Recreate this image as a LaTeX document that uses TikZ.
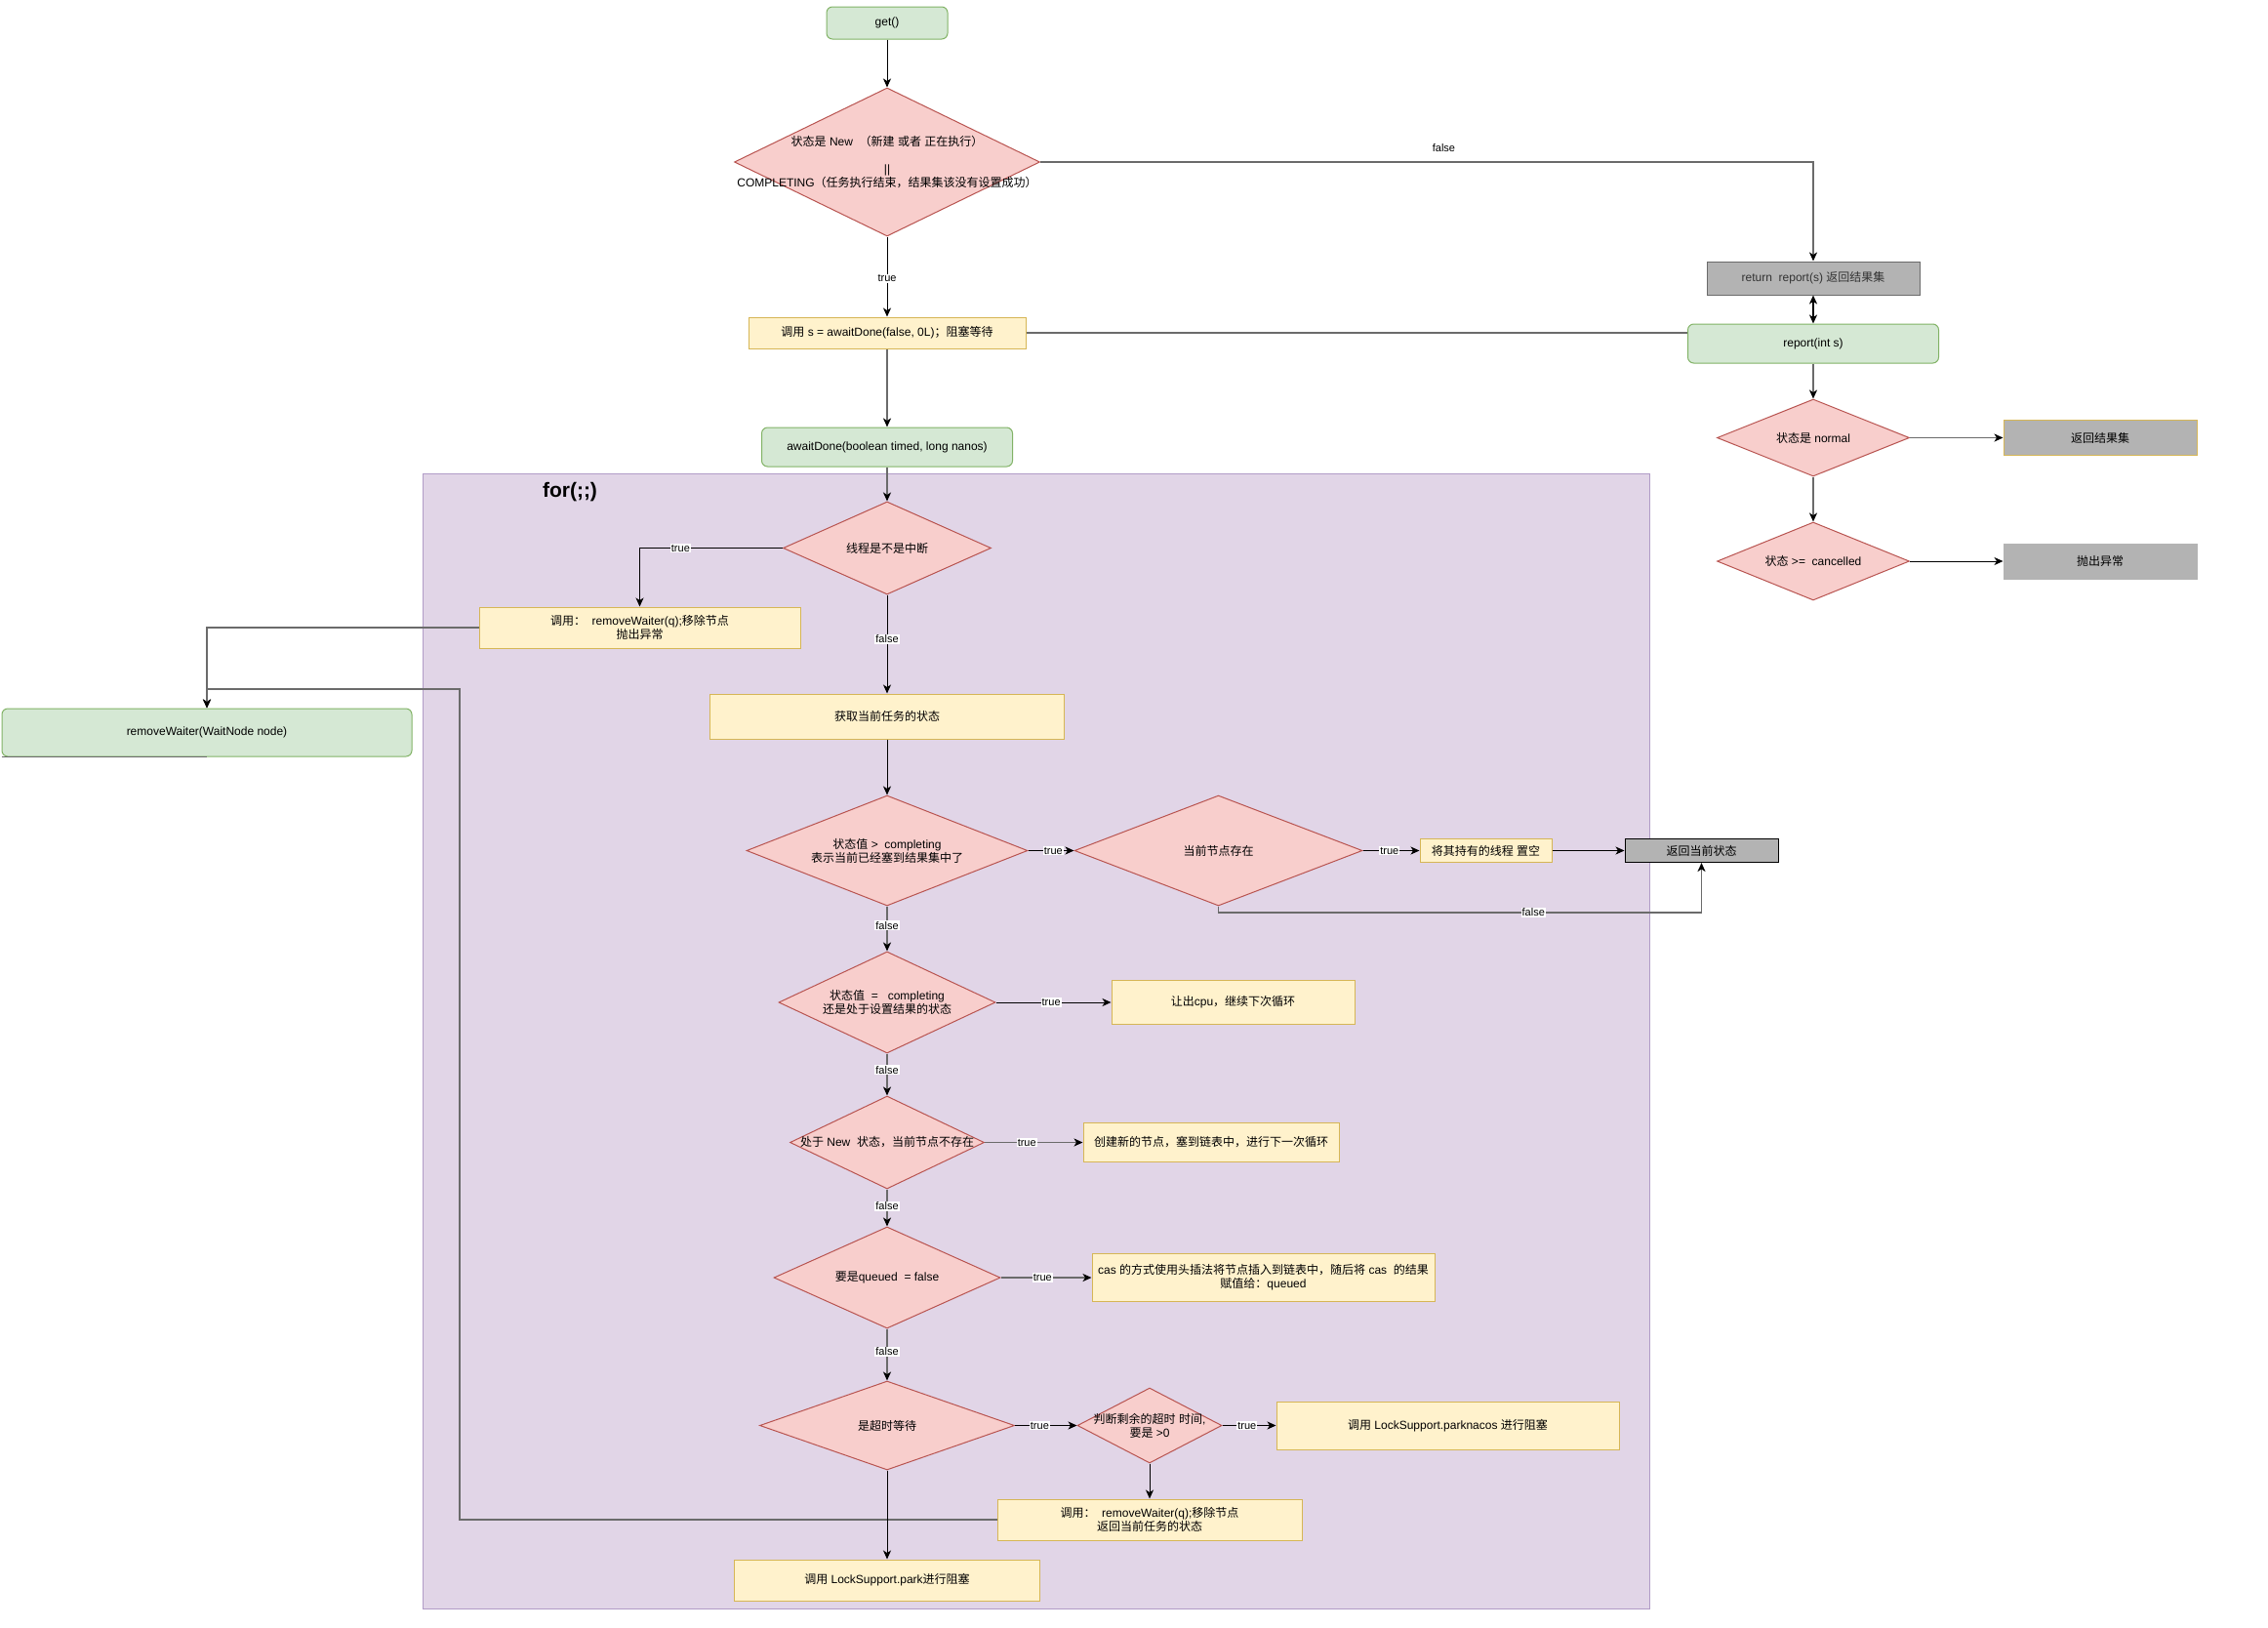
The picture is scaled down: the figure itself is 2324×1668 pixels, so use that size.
\documentclass[tikz,border=0pt]{standalone}
\usepackage{fontspec}
\setmainfont{Liberation Sans}
\newfontfamily\latinfont{Liberation Sans}
\newfontfamily\cjkfont{Noto Sans CJK SC}
\usetikzlibrary{arrows.meta, shapes.geometric, positioning}

% 中文字符自动切换到 CJK 字体
\XeTeXinterchartokenstate=1
\newXeTeXintercharclass\cjkclass
\newcount\cjkcode
\def\setcjkrange#1#2{\cjkcode=#1
  \loop\XeTeXcharclass\cjkcode=\cjkclass
    \advance\cjkcode by 1
  \ifnum\cjkcode<#2\repeat}
\setcjkrange{"3000}{"3040}
\setcjkrange{"4E00}{"A000}
\setcjkrange{"FF00}{"FFF0}
\XeTeXinterchartoks 0 \cjkclass = {\cjkfont}
\XeTeXinterchartoks 4095 \cjkclass = {\cjkfont}
\XeTeXinterchartoks \cjkclass 0 = {\latinfont}
\XeTeXinterchartoks \cjkclass 4095 = {\latinfont}

\definecolor{startfill}{HTML}{D5E8D4}
\definecolor{startline}{HTML}{82B366}
\definecolor{procfill}{HTML}{FFF2CC}
\definecolor{procline}{HTML}{D6B656}
\definecolor{decfill}{HTML}{F8CECC}
\definecolor{decline}{HTML}{B85450}
\definecolor{loopfill}{HTML}{E1D5E7}
\definecolor{loopline}{HTML}{B19CC7}
\definecolor{greyfill}{HTML}{B3B3B3}
\definecolor{edgegrey}{HTML}{6B6B6B}

\tikzset{
  startbox/.style={draw=startline, fill=startfill, rounded corners=6pt, line width=1pt, inner sep=0pt},
  procbox/.style={draw=procline, fill=procfill, line width=1pt, inner sep=0pt, align=center},
  greybox/.style={draw=greyfill, fill=greyfill, line width=1pt, inner sep=0pt},
  decision/.style={diamond, draw=decline, fill=decfill, line width=1pt, inner sep=0pt},
  dtext/.style={align=center, inner sep=0pt},
  flow/.style={draw=black, line width=1pt, -{Stealth[length=9pt, width=8pt, inset=2.5pt, black]}},
  flowg/.style={flow, draw=edgegrey, line width=1.5pt},
  elabel/.style={fill=white, inner sep=1pt, font=\fontsize{11}{12}\selectfont},
}

\begin{document}
\begin{tikzpicture}[x=1pt, y=-1pt, font=\fontsize{12}{14}\selectfont]
  \useasboundingbox[fill=white] (0,0) rectangle (2324,1668);

  % for(;;) 循环区域
  \node[draw=loopline, fill=loopfill, line width=1pt, minimum width=1257, minimum height=1163] (loop) at (1061.5,1066.5) {};
  \node[font=\fontsize{21}{24}\selectfont\bfseries] (forlabel) at (584,504) {for(;;)};

  % get() 主流程
  \node[startbox, minimum width=124, minimum height=33] (get) at (909,23.5) {get()};
  \node[decision, minimum width=313, minimum height=152,
    label={[dtext]center:{状态是 New~~（新建 或者 正在执行）\\[14pt]||\\COMPLETING（任务执行结束，结果集该没有设置成功）}}] (checknew) at (909,166) {};
  \node[procbox, minimum width=284, minimum height=32] (calls) at (909,341) {调用 s = awaitDone(false, 0L)；阻塞等待};
  \node[startbox, minimum width=257, minimum height=40] (await) at (909,458) {awaitDone(boolean timed, long nanos)};

  % report(int s)
  \node[greybox, draw=edgegrey, text=black!80, minimum width=218, minimum height=34] (ret) at (1858,285) {return~~report(s) 返回结果集};
  \node[startbox, minimum width=257, minimum height=40] (report) at (1858,352) {report(int s)};
  \node[decision, minimum width=197, minimum height=79, label={[dtext]center:{状态是 normal}}] (isnormal) at (1858,448.5) {};
  \node[greybox, draw=procline, minimum width=198, minimum height=36] (result) at (2152,448.5) {返回结果集};
  \node[decision, minimum width=197, minimum height=80, label={[dtext]center:{状态 >=~~cancelled}}] (iscancel) at (1858,575) {};
  \node[greybox, minimum width=198, minimum height=36] (throw) at (2152,575) {抛出异常};

  % 循环体
  \node[decision, minimum width=213, minimum height=95, label={[dtext]center:{线程是不是中断}}] (intr) at (909,561.5) {};
  \node[procbox, minimum width=329, minimum height=42] (rm1) at (655.5,643) {调用：~~removeWaiter(q);移除节点\\抛出异常};
  \node[startbox, minimum width=420, minimum height=49] (rw) at (212,750.5) {removeWaiter(WaitNode node)};
  \node[procbox, minimum width=363, minimum height=46] (state) at (909,734) {获取当前任务的状态};

  \node[decision, minimum width=288, minimum height=113,
    label={[dtext]center:{状态值 >~~completing\\表示当前已经塞到结果集中了}}] (d2) at (909,871.5) {};
  \node[decision, minimum width=295, minimum height=113, label={[dtext]center:{当前节点存在}}] (d3) at (1248.5,871.5) {};
  \node[procbox, minimum width=135, minimum height=24] (nullbox) at (1522.5,871.5) {将其持有的线程 置空};
  \node[greybox, draw=black, minimum width=157, minimum height=24] (retstate) at (1743.5,871.5) {返回当前状态};

  \node[decision, minimum width=222, minimum height=104,
    label={[dtext]center:{状态值~~=~~~completing\\还是处于设置结果的状态}}] (d4) at (909,1027) {};
  \node[procbox, minimum width=249, minimum height=45] (yield) at (1263.5,1027) {让出cpu，继续下次循环};

  \node[decision, minimum width=199, minimum height=95, label={[dtext]center:{处于 New~~状态，当前节点不存在}}] (d5) at (909,1170.5) {};
  \node[procbox, minimum width=262, minimum height=40] (newnode) at (1241,1170.5) {创建新的节点，塞到链表中，进行下一次循环};

  \node[decision, minimum width=232, minimum height=104, label={[dtext]center:{要是queued~~= false}}] (d6) at (909,1309) {};
  \node[procbox, minimum width=351, minimum height=49] (cas) at (1294.5,1309) {cas 的方式使用头插法将节点插入到链表中，随后将 cas~~的结果\\赋值给：queued};

  \node[decision, minimum width=261, minimum height=91, label={[dtext]center:{是超时等待}}] (d7) at (909,1460.5) {};
  \node[decision, minimum width=148, minimum height=77, label={[dtext]center:{判断剩余的超时 时间,\\要是 >0}}] (d8) at (1178,1460.5) {};
  \node[procbox, minimum width=351, minimum height=49] (parkn) at (1483.5,1460.5) {调用 LockSupport.parknacos 进行阻塞};
  \node[procbox, minimum width=312, minimum height=42] (rm2) at (1178,1557) {调用：~~removeWaiter(q);移除节点\\返回当前任务的状态};
  \node[procbox, minimum width=313, minimum height=42] (park) at (909,1619) {调用 LockSupport.park进行阻塞};

  % 连线
  \draw[flow] (get) -- (checknew);
  \draw[flowg] (checknew.east) -| (ret.north) node[elabel, fill=none, pos=0.261, above=9pt] (f0) {false};
  \draw[flow] (checknew) -- (calls) node[elabel, pos=0.52] (t0) {true};
  \draw[flowg] (calls) -- (await);
  \draw[flowg, -] (calls.east) -- (calls.east -| report.west);
  \draw[flow, line width=1.5pt, {Stealth[length=9pt, width=8pt, inset=2.5pt]}-{Stealth[length=9pt, width=8pt, inset=2.5pt]}] (ret) -- (report);
  \draw[flowg] (report) -- (isnormal);
  \draw[flowg] (isnormal) -- (result);
  \draw[flowg] (isnormal) -- (iscancel);
  \draw[flow] (iscancel) -- (throw);

  \draw[flowg] (await) -- (intr);
  \draw[flow] (intr.west) -| (rm1.north) node[elabel, pos=0.357] (t1) {true};
  \draw[flow] (intr) -- (state) node[elabel, pos=0.45] (f1) {false};
  \draw[flowg] (rm1.west) -| (rw.north);
  \draw[edgegrey, line width=1.5pt] (rw.south west) -- (rw.south);
  \draw[flow] (state) -- (d2);

  \draw[flow] (d2) -- (d3) node[elabel, pos=0.55] (t2) {true};
  \draw[flow] (d3) -- (nullbox) node[elabel, pos=0.47] (t3) {true};
  \draw[flow] (nullbox) -- (retstate);
  \coordinate (d3turn) at (1743.5,935);
  \draw[flowg] (d3.south) |- (d3turn) node[elabel, pos=0.826] (f3) {false} -- (retstate.south);

  \draw[flowg] (d2) -- (d4) node[elabel, pos=0.43] (f2) {false};
  \draw[flow] (d4) -- (yield) node[elabel, pos=0.48] (t4) {true};
  \draw[flowg] (d4) -- (d5) node[elabel, pos=0.39] (f4) {false};
  \draw[flowg] (d5) -- (newnode) node[elabel, pos=0.43] (t5) {true};
  \draw[flowg] (d5) -- (d6) node[elabel, pos=0.46] (f5) {false};
  \draw[flowg] (d6) -- (cas) node[elabel, pos=0.46] (t6) {true};
  \draw[flowg] (d6) -- (d7) node[elabel, pos=0.44] (f6) {false};
  \draw[flow] (d7) -- (d8) node[elabel, pos=0.4] (t7) {true};
  \draw[flow] (d8) -- (parkn) node[elabel, pos=0.46] (t8) {true};
  \draw[flow] (d8) -- (rm2);

  % 移除节点后回到 removeWaiter
  \coordinate (looptop) at (471,706);
  \draw[flowg] (rm2.west) -| (looptop) -| (rw.north);
  \draw[flow] (d7) -- (park);
\end{tikzpicture}
\end{document}
